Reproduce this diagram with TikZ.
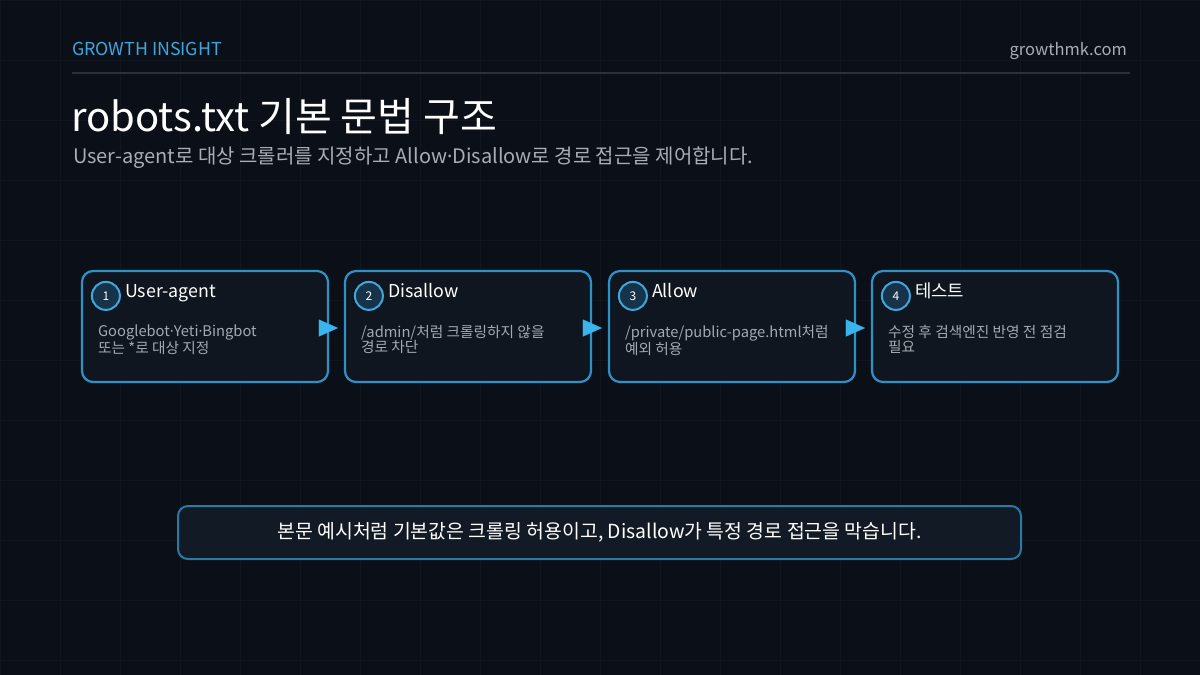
\documentclass[tikz,border=0pt]{standalone}
\usepackage{fontspec}
\setmainfont{Noto Sans CJK KR}
\newfontfamily\dotfont{Noto Sans}
\newcommand{\mydot}{{\dotfont ·}}
\usetikzlibrary{calc,arrows.meta}
\definecolor{bgc}{HTML}{0B0F17}
\definecolor{gridc}{HTML}{10151E}
\definecolor{accent}{HTML}{3FA7DC}
\definecolor{muted}{HTML}{A9AEB6}
\definecolor{rulec}{HTML}{2C3139}
\definecolor{boxfill}{HTML}{10161F}
\definecolor{boxdraw}{HTML}{2E92C6}
\definecolor{badgefill}{HTML}{173349}
\definecolor{tri}{HTML}{3AB4EC}
\definecolor{bodyc}{HTML}{A3A9B0}
\definecolor{notefill}{HTML}{121A25}
\definecolor{notedraw}{HTML}{2B7AA6}
\tikzset{
  stepbox/.style={draw=boxdraw, line width=2.2pt, fill=boxfill, rounded corners=11pt,
    minimum width=246pt, minimum height=111pt, inner sep=0pt},
  badge/.style={circle, draw=accent, line width=2pt, fill=badgefill, minimum size=28pt,
    inner sep=0pt, text=white, font=\fontsize{12}{13}\selectfont},
  steptitle/.style={anchor=base west, inner sep=0pt, text=white, font=\fontsize{17.8}{19}\selectfont},
  stepbody/.style={anchor=north west, inner sep=0pt, text=bodyc, align=left,
    font=\fontsize{14.7}{15.5}\selectfont},
  flow/.style={draw=tri, line width=0.01pt, -{Triangle[length=19pt,width=17pt,fill=tri]}},
  notebox/.style={draw=notedraw, line width=2pt, fill=notefill, rounded corners=10pt,
    minimum width=843pt, minimum height=53pt, inner sep=0pt, text=white,
    font=\fontsize{19.4}{21}\selectfont},
}
\begin{document}
\begin{tikzpicture}[x=1pt,y=-1pt]
\fill[bgc] (0,0) rectangle (1200,675);
\useasboundingbox (0,0) rectangle (1200,675);
\foreach \i in {0,60,...,1200} \draw[gridc, line width=0.8pt] (\i,0) -- (\i,675);
\foreach \j in {0,60,...,660} \draw[gridc, line width=0.8pt] (0,\j) -- (1200,\j);

\node[anchor=base west, inner sep=0pt, text=accent, font=\fontsize{17.8}{19}\selectfont] (brand) at (72,55) {GROWTH INSIGHT};
\node[anchor=base east, inner sep=0pt, text=muted, font=\fontsize{16.5}{18}\selectfont] (site) at (1127,55) {growthmk.com};
\coordinate (rl) at (72,73);
\coordinate (rr) at (1130,73);
\draw[rulec, line width=2pt] (rl) -- (rr);

\node[anchor=base west, inner sep=0pt, text=white, font=\fontsize{40}{43}\selectfont] (title) at (71,131) {robots.txt 기본 문법 구조};
\node[anchor=base west, inner sep=0pt, text=muted, font=\fontsize{20}{22}\selectfont] (sub) at (73,163) {User-agent로 대상 크롤러를 지정하고 Allow\mydot Disallow로 경로 접근을 제어합니다.};

\node[stepbox] (b1) at (205,326.5) {};
\node[stepbox] (b2) at (468,326.5) {};
\node[stepbox] (b3) at (732,326.5) {};
\node[stepbox] (b4) at (995,326.5) {};

\draw[flow] ([xshift=-8pt,yshift=-1.5pt]b1.east) -- ([xshift=-6pt,yshift=-1.5pt]b2.west);
\draw[flow] ([xshift=-8pt,yshift=-1.5pt]b2.east) -- ([xshift=-6pt,yshift=-1.5pt]b3.west);
\draw[flow] ([xshift=-8pt,yshift=-1.5pt]b3.east) -- ([xshift=-6pt,yshift=-1.5pt]b4.west);

\node[badge] (n1) at ($(b1.north west)+(25,26)$) {1};
\node[steptitle] (t1) at ($(b1.north west)+(44,28)$) {User-agent};
\node[stepbody] (d1) at ($(b1.north west)+(17,55)$) {Googlebot\mydot Yeti\mydot Bingbot\\또는 *로 대상 지정};

\node[badge] (n2) at ($(b2.north west)+(25,26)$) {2};
\node[steptitle] (t2) at ($(b2.north west)+(44,28)$) {Disallow};
\node[stepbody] (d2) at ($(b2.north west)+(17,55)$) {/admin/처럼 크롤링하지 않을\\경로 차단};

\node[badge] (n3) at ($(b3.north west)+(25,26)$) {3};
\node[steptitle] (t3) at ($(b3.north west)+(44,28)$) {Allow};
\node[stepbody] (d3) at ($(b3.north west)+(17,55)$) {/private/public-page.html처럼\\예외 허용};

\node[badge] (n4) at ($(b4.north west)+(25,26)$) {4};
\node[steptitle] (t4) at ($(b4.north west)+(44,28)$) {테스트};
\node[stepbody] (d4) at ($(b4.north west)+(17,55)$) {수정 후 검색엔진 반영 전 점검\\필요};

\node[notebox] (note) at (599.5,532.5) {본문 예시처럼 기본값은 크롤링 허용이고, Disallow가 특정 경로 접근을 막습니다.};
\end{tikzpicture}
\end{document}
